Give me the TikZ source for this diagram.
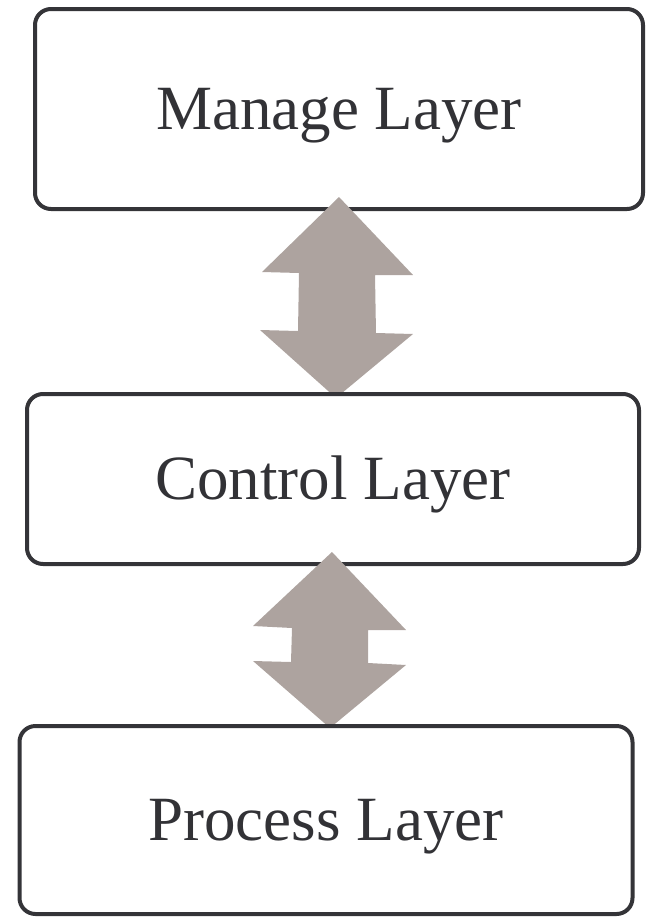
\documentclass[tikz,border=0pt]{standalone}
\usepackage{fontspec}
\setmainfont{Liberation Serif}
\definecolor{edge}{RGB}{52,52,56}
\definecolor{ink}{RGB}{50,50,54}
\definecolor{arrowfill}{RGB}{173,163,159}
\begin{document}
\begin{tikzpicture}[x=1pt,y=-1pt,
  layer/.style={draw=edge, line width=4pt, rounded corners=16pt, fill=white,
    text=ink, font=\fontsize{63}{70}\selectfont, inner sep=0pt,
    text height=41pt, text depth=0pt},
  dblarrow/.style={fill=arrowfill, draw=none}]
\useasboundingbox (0,0) rectangle (647,919);

% management tier
\node[layer, minimum width=608pt, minimum height=200pt] (manage) at (339,109) {Manage Layer};

% two-way arrow between management and control
\fill[dblarrow] (339,197) -- (413,275) -- (375,275) -- (376,333) -- (413,334)
  -- (336,398) -- (260,330) -- (298,331) -- (299,273) -- (262,272) -- cycle;

% control tier
\node[layer, minimum width=612pt, minimum height=170pt] (control) at (333,479) {Control Layer};

% two-way arrow between control and process
\fill[dblarrow] (332,552) -- (406,630) -- (368,630) -- (368,663) -- (406,665)
  -- (330,728) -- (253,661) -- (291,662) -- (292,628) -- (253,626) -- cycle;

% process tier
\node[layer, minimum width=613pt, minimum height=188pt] (process) at (326,820) {Process Layer};
\end{tikzpicture}
\end{document}
